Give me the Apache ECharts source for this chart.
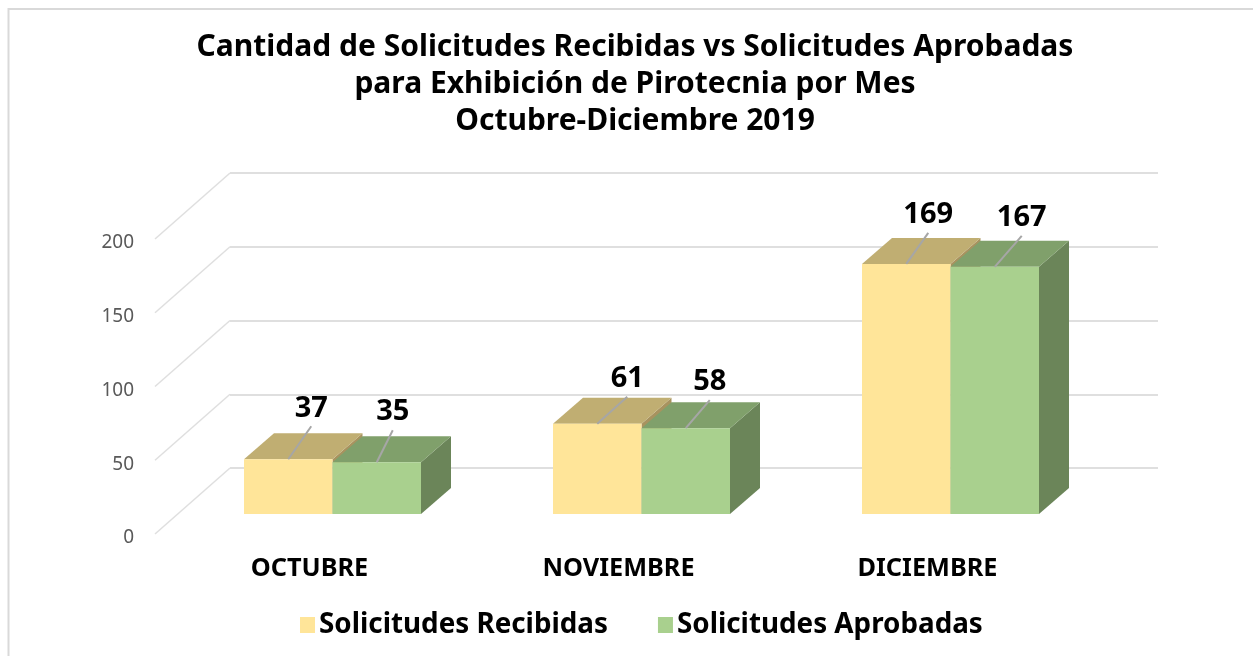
<!DOCTYPE html>
<html>
<head>
<meta charset="utf-8">
<style>html,body{margin:0;padding:0;background:#fff}#c{width:1253px;height:656px}</style>
<script src="https://cdn.jsdelivr.net/npm/echarts@6/dist/echarts.min.js"></script>
</head>
<body>
<div id="c"></div>
<script>
const categories = ['OCTUBRE', 'NOVIEMBRE', 'DICIEMBRE'];
const recibidas = [37, 61, 169];
const aprobadas = [35, 58, 167];
const yTicks = [0, 50, 100, 150, 200];
const titleText = 'Cantidad de Solicitudes Recibidas vs Solicitudes Aprobadas\npara Exhibición de Pirotecnia por Mes\nOctubre-Diciembre 2019';

// Leader-line tip offsets from each bar's top centre (px)
const recibidasLeader = [[23, -33], [30, -27], [22, -31]];
const aprobadasLeader = [[16, -32], [24, -28], [27, -31]];

const FONT = '"Noto Sans", sans-serif';
const WALL = { dx: 75, dy: -66 };
const DEPTH = { dx: 30, dy: -26 };
const BAR_RATIO = 88.5 / 309;
const GRID_COLOR = '#dfdfdf';

const stylesBySeries = [
  { front: '#FFE599', top: '#C0AE72', side: '#A8935F', leader: recibidasLeader, sign: -1 },
  { front: '#A9D08E', top: '#80A06B', side: '#6B8559', leader: aprobadasLeader, sign: 0 }
];

function barItem(styleSet) {
  return function (params, api) {
    const v = api.value(1), idx = api.value(0);
    const centre = api.coord([idx, 0]);
    const topPt = api.coord([idx, v]);
    const w = api.size([1, 0])[0] * BAR_RATIO;
    const x0 = centre[0] + styleSet.sign * w, x1 = x0 + w;
    const yb = centre[1], yt = topPt[1];
    const d = DEPTH;
    const poly = (points, fill) => ({ type: 'polygon', shape: { points }, style: { fill } });
    const mid = (x0 + x1) / 2;
    const off = styleSet.leader[idx];
    return {
      type: 'group',
      children: [
        poly([[x1, yb], [x1 + d.dx, yb + d.dy], [x1 + d.dx, yt + d.dy], [x1, yt]], styleSet.side),
        poly([[x0, yt], [x1, yt], [x1 + d.dx, yt + d.dy], [x0 + d.dx, yt + d.dy]], styleSet.top),
        poly([[x0, yb], [x1, yb], [x1, yt], [x0, yt]], styleSet.front),
        { type: 'line', shape: { x1: mid, y1: yt, x2: mid + off[0], y2: yt + off[1] }, style: { stroke: '#A6A6A6', lineWidth: 2 } },
        { type: 'text', style: { text: String(v), x: mid + off[0], y: yt + off[1] - 18, align: 'center', verticalAlign: 'middle', fill: '#000', font: 'bold 29px ' + FONT } }
      ]
    };
  };
}

function diagonalItem(params, api) {
  const p = api.coord([0, api.value(0)]);
  const x = params.coordSys.x;
  return { type: 'line', shape: { x1: x, y1: p[1], x2: x + WALL.dx, y2: p[1] + WALL.dy }, style: { stroke: GRID_COLOR, lineWidth: 1.5 } };
}

const hiddenX = (gridIndex) => ({ type: 'category', gridIndex, data: categories, axisLine: { show: false }, axisTick: { show: false }, axisLabel: { show: false }, splitLine: { show: false } });
const valueY = (gridIndex, extra) => Object.assign({ type: 'value', gridIndex, min: 0, max: 200, interval: 50, axisLine: { show: false }, axisTick: { show: false }, axisLabel: { show: false }, splitLine: { show: false } }, extra);

const chart = echarts.init(document.getElementById('c'), null, { renderer: 'canvas' });
chart.setOption({
  animation: false,
  backgroundColor: '#fff',
  graphic: [{ type: 'rect', z: -10, silent: true, shape: { x: 8.5, y: 9, width: 1400, height: 800 }, style: { fill: 'none', stroke: '#D9D9D9', lineWidth: 2 } }],
  title: {
    text: titleText, left: 630, top: 24, textAlign: 'center',
    textStyle: { fontFamily: FONT, fontWeight: 'bold', fontSize: 30, lineHeight: 37, color: '#000' }
  },
  legend: {
    left: 295, top: 606, itemWidth: 15, itemHeight: 16, itemGap: 50, icon: 'rect',
    data: ['Solicitudes Recibidas', 'Solicitudes Aprobadas'],
    textStyle: { fontFamily: FONT, fontWeight: 'bold', fontSize: 27.8, color: '#000', padding: [0, 0, 0, -1] }
  },
  grid: [
    { left: 155, top: 239, width: 927, height: 295 },   // front plane: axis labels
    { left: 230, top: 173, width: 928, height: 295 },   // back wall: gridlines
    { left: 178, top: 218, width: 927, height: 296 }    // bar plane
  ],
  xAxis: [
    Object.assign(hiddenX(0), { axisLabel: { show: true, interval: 0, margin: 22, color: '#000', fontFamily: FONT, fontWeight: 'bold', fontSize: 25.3 } }),
    hiddenX(1),
    hiddenX(2)
  ],
  yAxis: [
    valueY(0, { axisLabel: { show: true, margin: 21, color: '#595959', fontFamily: FONT, fontSize: 19, verticalAlign: 'top', lineHeight: 8 } }),
    valueY(1, { splitLine: { show: true, lineStyle: { color: GRID_COLOR, width: 2 } } }),
    valueY(2)
  ],
  series: [
    { type: 'custom', silent: true, xAxisIndex: 0, yAxisIndex: 0, z: 1, data: yTicks.map(v => [v]), encode: { y: 0 }, renderItem: diagonalItem },
    { type: 'custom', name: 'Solicitudes Recibidas', xAxisIndex: 2, yAxisIndex: 2, z: 3, itemStyle: { color: stylesBySeries[0].front },
      data: recibidas.map((v, i) => [i, v]), encode: { x: 0, y: 1 }, renderItem: barItem(stylesBySeries[0]) },
    { type: 'custom', name: 'Solicitudes Aprobadas', xAxisIndex: 2, yAxisIndex: 2, z: 4, itemStyle: { color: stylesBySeries[1].front },
      data: aprobadas.map((v, i) => [i, v]), encode: { x: 0, y: 1 }, renderItem: barItem(stylesBySeries[1]) }
  ]
});
</script>
</body>
</html>
